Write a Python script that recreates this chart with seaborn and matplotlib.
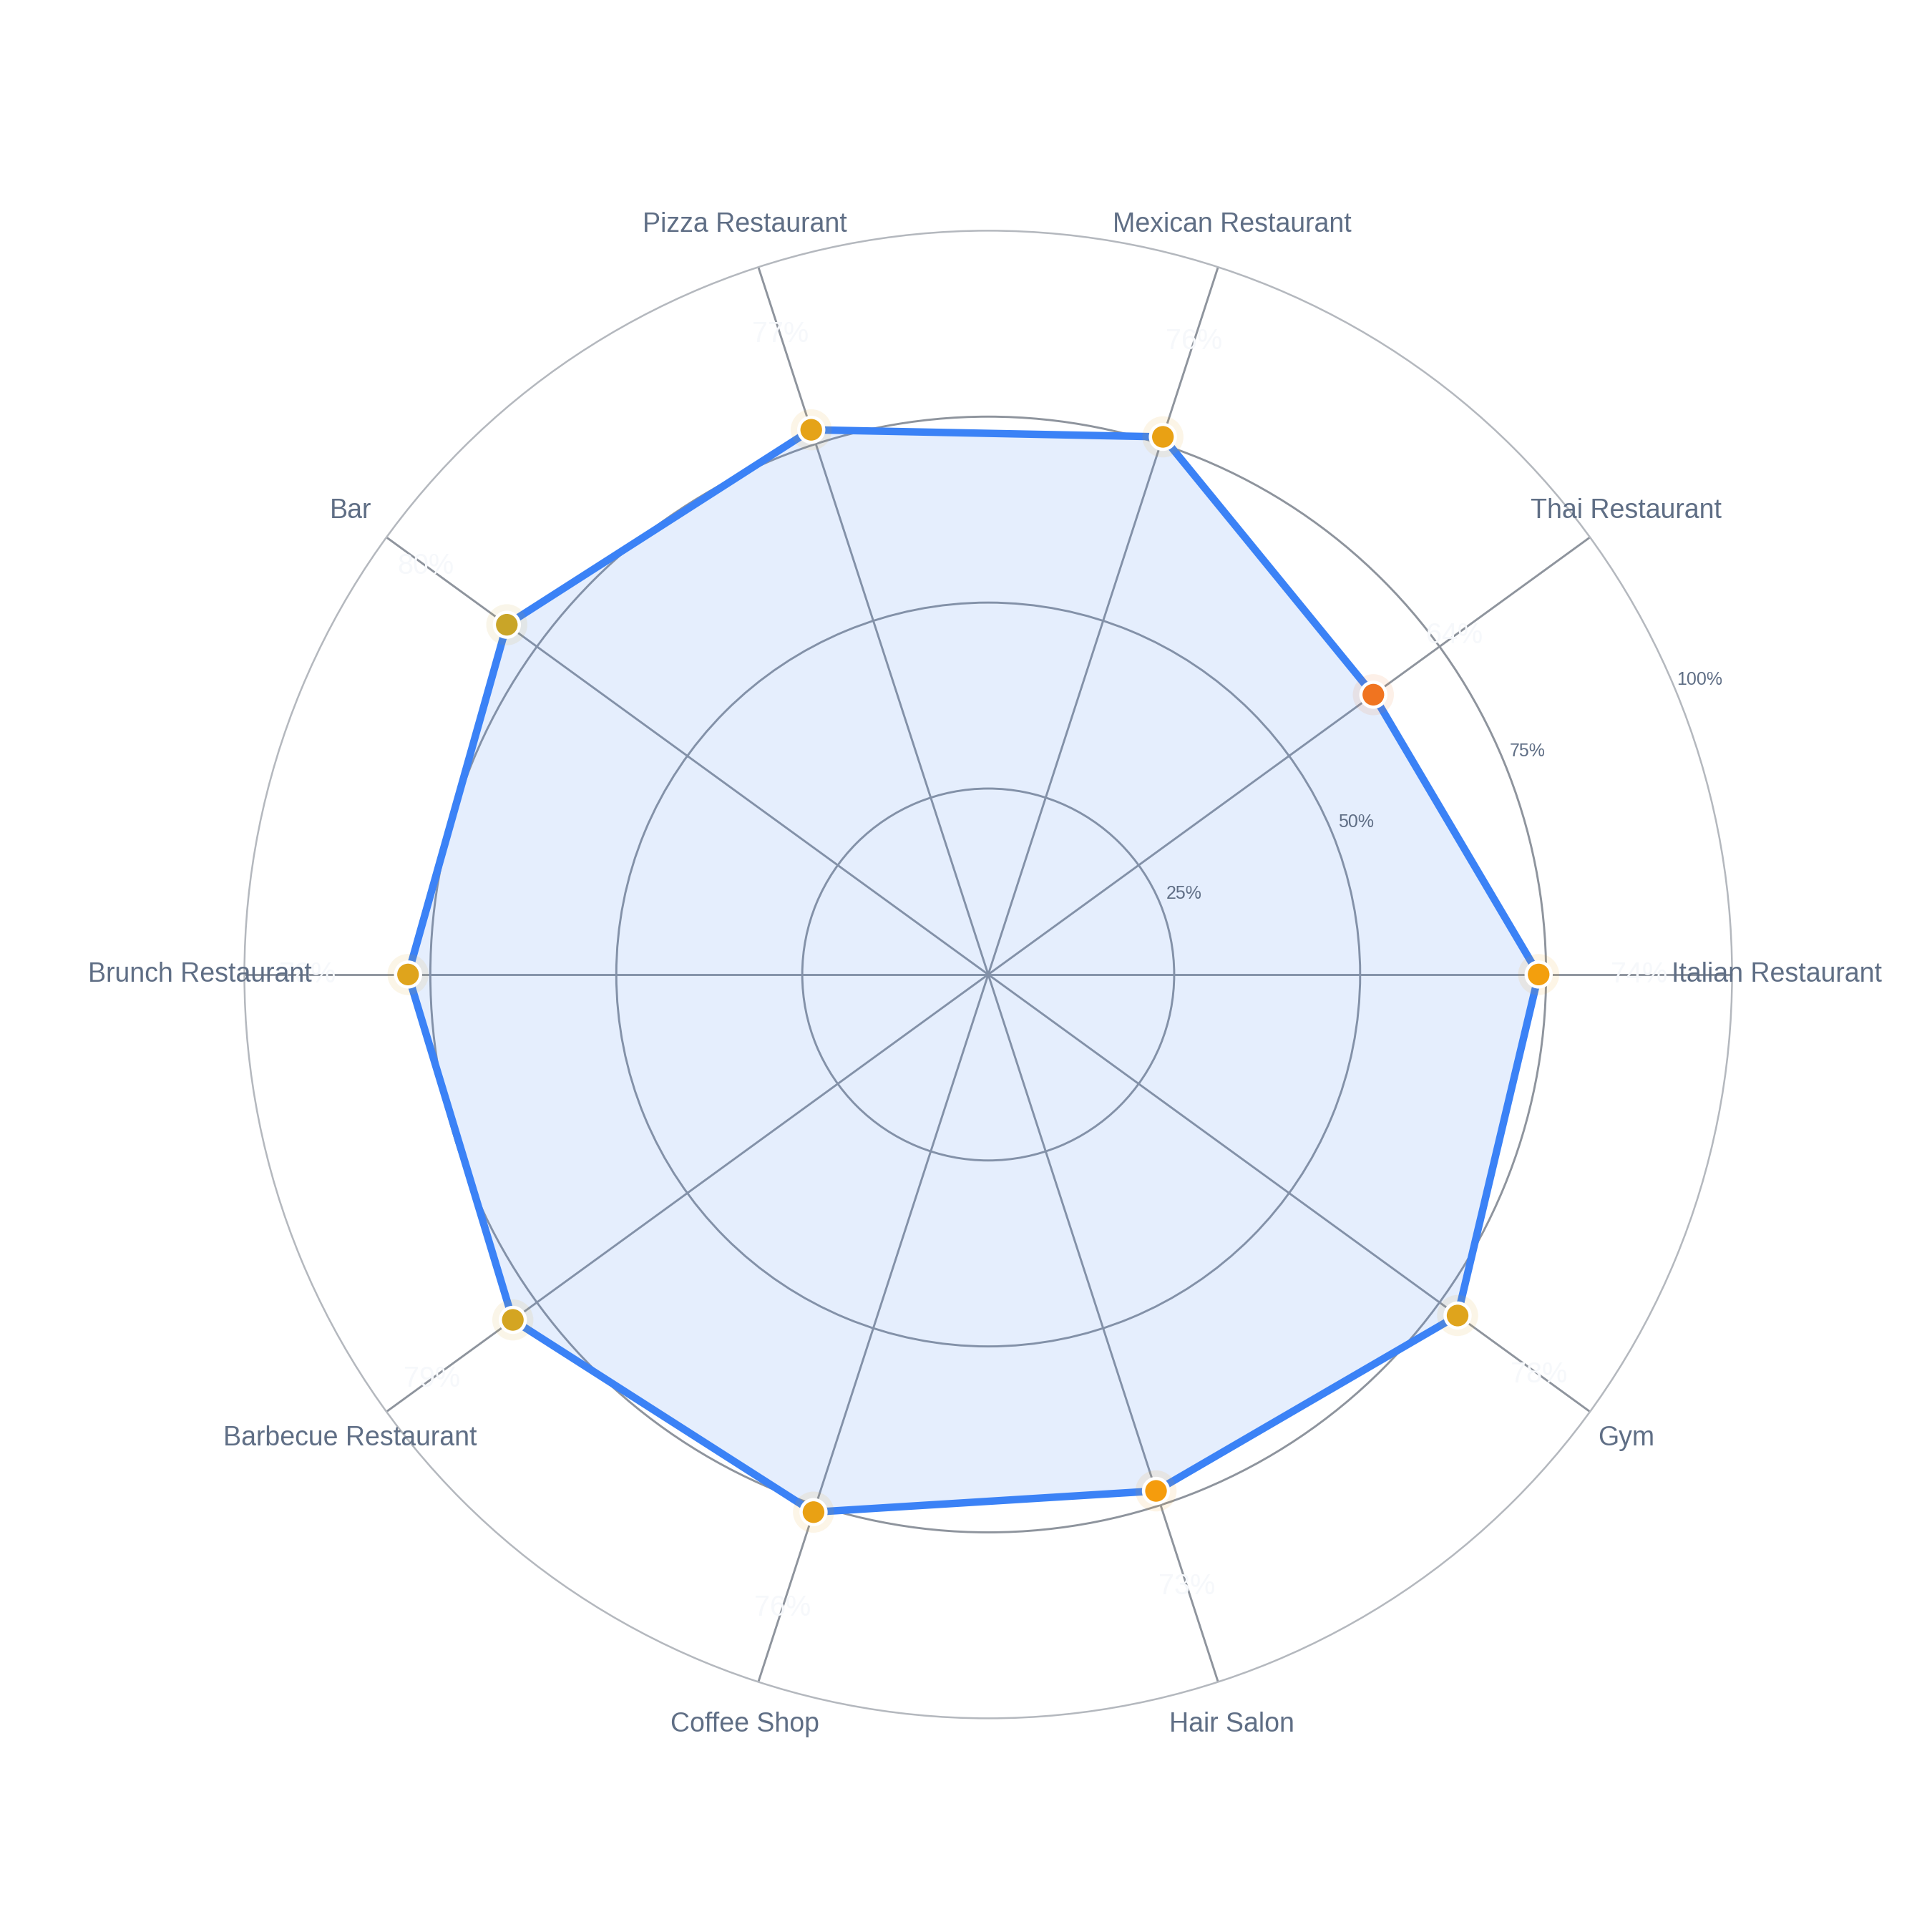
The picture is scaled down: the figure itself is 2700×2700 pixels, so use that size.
import numpy as np
import pandas as pd
import seaborn as sns
import matplotlib.pyplot as plt
from matplotlib.colors import LinearSegmentedColormap, Normalize

# data
categories = ['Italian Restaurant', 'Thai Restaurant', 'Mexican Restaurant',
              'Pizza Restaurant', 'Bar', 'Brunch Restaurant',
              'Barbecue Restaurant', 'Coffee Shop', 'Hair Salon', 'Gym']
scores = [74, 64, 76, 77, 80, 78, 79, 76, 73, 78]
radial_ticks = [25, 50, 75, 100]
radial_tick_labels = ['25%', '50%', '75%', '100%']

sns.set_theme(style='white')
plt.rcParams['font.family'] = ['Liberation Sans', 'DejaVu Sans']

n = len(categories)
theta = np.linspace(0, 2 * np.pi, n, endpoint=False)
df = pd.DataFrame({'category': categories, 'score': scores, 'theta': theta})
closed = pd.concat([df, df.iloc[[0]]], ignore_index=True)
closed.loc[closed.index[-1], 'theta'] = 2 * np.pi

# marker colours go from orange (low) to gold (high)
cmap = LinearSegmentedColormap.from_list(
    'og', [(0, '#f07420'), (0.6, '#f59e0b'), (0.875, '#e0a41c'), (1, '#c9a528')])
norm = Normalize(min(scores), max(scores))
colors = [cmap(norm(v)) for v in scores]

fig = plt.figure(figsize=(9, 9), dpi=300)
ax = fig.add_axes([0.1265, 0.1106, 0.770, 0.770], projection='polar')
ax.set_ylim(0, 100)

grid_col = '#8e949d'
ax.set_xticks(theta)
ax.set_xticklabels([])
ax.set_yticks(radial_ticks[:-1])
ax.set_yticklabels([])
ax.xaxis.grid(True, color=grid_col, lw=0.7)
ax.yaxis.grid(True, color=grid_col, lw=0.7)
ax.spines['polar'].set_color('#b4b8be')
ax.spines['polar'].set_linewidth(0.6)
ax.tick_params(pad=0)

# filled area and outline
ax.fill(closed['theta'], closed['score'], color='#3b82f6', alpha=0.13, lw=0, zorder=2)
sns.lineplot(data=closed, x='theta', y='score', sort=False, estimator=None,
             color='#3b82f6', lw=2.5, ax=ax, zorder=3)

# halo + markers
ax.scatter(df['theta'], df['score'], s=190, c=colors, alpha=0.1, lw=0, zorder=4)
sns.scatterplot(data=df, x='theta', y='score', hue='category', palette=colors,
                s=70, edgecolor='white', linewidth=1.1, legend=False, ax=ax, zorder=5)

# value labels (very light)
for t, v in zip(theta, scores):
    ax.text(t, v + 13.5, f'{v}%', ha='center', va='center', fontsize=9.5,
            color='#f6f8fb', zorder=6)

# category labels
for t, c in zip(theta, categories):
    ax.text(t, 106, c, ha='center', va='center', fontsize=9,
            color='#5f6e85', zorder=6)

# radial tick labels
rl_angle = np.deg2rad(22.5)
for r, lab in zip(radial_ticks, radial_tick_labels):
    ax.text(rl_angle, r + 3.5, lab, ha='center', va='center', fontsize=6,
            color='#5f6e85', zorder=6)

ax.set_xlabel('')
ax.set_ylabel('')

fig.savefig('out.png', dpi=300, facecolor='white')
